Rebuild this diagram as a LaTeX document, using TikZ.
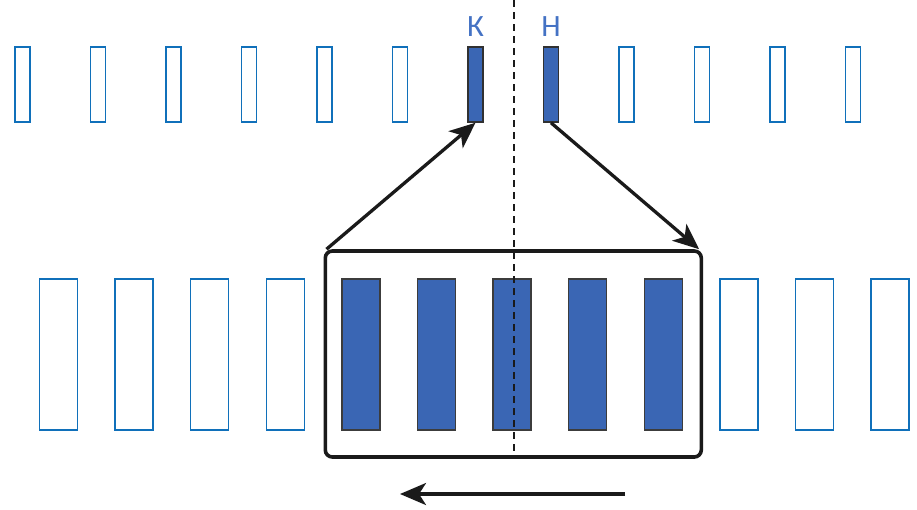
\documentclass[tikz,border=0pt]{standalone}
\usepackage{fontspec}
\setmainfont{Carlito}
\usetikzlibrary{arrows.meta}
\definecolor{barblue}{RGB}{58,102,180}
\definecolor{lineblue}{RGB}{16,112,186}
\definecolor{txtblue}{RGB}{68,114,196}
\definecolor{ink}{RGB}{26,26,26}
\tikzset{
  topbar/.style={draw=lineblue,line width=1.5pt,minimum width=15pt,minimum height=75pt,inner sep=0pt},
  topfill/.style={fill=barblue,draw=ink!90,line width=1.5pt,minimum width=15pt,minimum height=75pt,inner sep=0pt},
  botbar/.style={draw=lineblue,line width=1.5pt,minimum width=38pt,minimum height=151pt,inner sep=0pt},
  botfill/.style={fill=barblue,draw=ink!85,line width=1.3pt,minimum width=38pt,minimum height=151pt,inner sep=0pt},
  framebox/.style={draw=ink,line width=3.6pt,rounded corners=7pt,minimum width=376pt,minimum height=206pt,inner sep=0pt},
  bigarrow/.style={draw=ink,line width=3.3pt,-{Stealth[length=26pt,width=22pt,inset=7pt]}},
  lbl/.style={text=txtblue,font=\fontsize{31}{31}\selectfont,inner sep=0pt}
}
\begin{document}
\begin{tikzpicture}[x=1pt,y=-1pt]
\useasboundingbox (0,0) rectangle (917,509);
% top row
\foreach \i in {0,...,5,8,9,10,11} {
  \node[topbar] (t\i) at (22.5+75.5*\i,84.5) {};
}
\node[topfill] (t6) at (475.5,84.5) {};
\node[topfill] (t7) at (551,84.5) {};
\node[lbl] (lk) at (475.5,27) {К};
\node[lbl] (ln) at (551,27) {Н};
% bottom row
\foreach \i in {0,1,2,3,9,10,11} {
  \node[botbar] (b\i) at (58.5+75.6*\i,354.5) {};
}
\node[framebox] (frame) at (513.3,354) {};
\foreach \i in {4,...,8} {
  \node[botfill] (b\i) at (58.5+75.6*\i,354.5) {};
}
% dashed axis
\coordinate (dtop) at (514,0);
\coordinate (dbot) at (514,457);
\draw[ink,line width=1.5pt,dash pattern=on 7pt off 5pt] (dtop) -- (dbot);
% arrows
\draw[bigarrow] ([xshift=3pt]frame.north west) -- (t6.south);
\draw[bigarrow] (t7.south) -- ([xshift=-4pt]frame.north east);
\coordinate (ma) at (625,494);
\coordinate (mb) at (400,494);
\draw[bigarrow] (ma) -- (mb);
\end{tikzpicture}
\end{document}
